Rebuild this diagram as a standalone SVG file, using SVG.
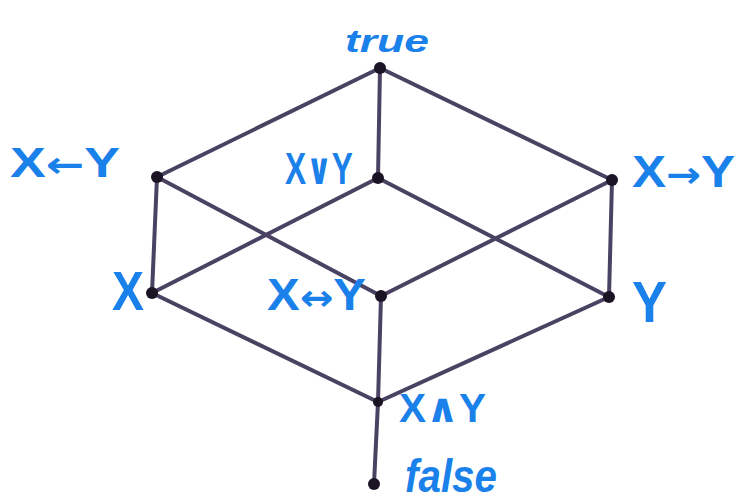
<svg xmlns="http://www.w3.org/2000/svg" width="738" height="501" viewBox="0 0 738 501">
<style>
.e{stroke:#4a4262;stroke-width:4;fill:none;stroke-linecap:round}
.d{fill:#1a1424}
.t{fill:#1a80ea;font-family:"Liberation Sans","DejaVu Sans",sans-serif;font-weight:bold}
.a{font-family:"DejaVu Sans",sans-serif;font-weight:bold}
</style>
<rect width="738" height="501" fill="#fff"/>
<g id="connectors">
<line class="e" x1="380" y1="68" x2="157" y2="177"/>
<line class="e" x1="380" y1="68" x2="378" y2="178"/>
<line class="e" x1="380" y1="68" x2="612" y2="180"/>
<line class="e" x1="157" y1="177" x2="152" y2="293"/>
<line class="e" x1="157" y1="177" x2="381" y2="296"/>
<line class="e" x1="378" y1="178" x2="152" y2="293"/>
<line class="e" x1="378" y1="178" x2="609" y2="297"/>
<line class="e" x1="612" y1="180" x2="381" y2="296"/>
<line class="e" x1="612" y1="180" x2="609" y2="297"/>
<line class="e" x1="152" y1="293" x2="378" y2="402"/>
<line class="e" x1="381" y1="296" x2="378" y2="402"/>
<line class="e" x1="609" y1="297" x2="378" y2="402"/>
<line class="e" x1="378" y1="402" x2="374" y2="484"/>
</g>
<g id="n-true"><circle class="d" cx="380" cy="68" r="6"/><text class="t" x="345" y="52" font-size="32" font-style="italic" textLength="84" lengthAdjust="spacingAndGlyphs">true</text></g>
<g id="n-xly"><circle class="d" cx="157" cy="177" r="6"/><text class="t" x="10" y="177" font-size="42" textLength="110" lengthAdjust="spacingAndGlyphs">X<tspan class="a" font-size="36">←</tspan>Y</text></g>
<g id="n-xory"><circle class="d" cx="378" cy="178" r="6"/><text class="t" x="285" y="184" font-size="44" textLength="68" lengthAdjust="spacingAndGlyphs">X∨Y</text></g>
<g id="n-xry"><circle class="d" cx="612" cy="180" r="6"/><text class="t" x="632" y="187" font-size="44" textLength="103" lengthAdjust="spacingAndGlyphs">X<tspan class="a" font-size="36">→</tspan>Y</text></g>
<g id="n-x"><circle class="d" cx="152" cy="293" r="6"/><text class="t" x="112" y="310" font-size="56" textLength="32" lengthAdjust="spacingAndGlyphs">X</text></g>
<g id="n-xeqy"><circle class="d" cx="381" cy="296" r="6"/><text class="t" x="267" y="310" font-size="44" textLength="99" lengthAdjust="spacingAndGlyphs">X<tspan class="a" font-size="36">↔</tspan>Y</text></g>
<g id="n-y"><circle class="d" cx="609" cy="297" r="6"/><text class="t" x="632" y="322" font-size="58" textLength="35" lengthAdjust="spacingAndGlyphs">Y</text></g>
<g id="n-xandy"><circle class="d" cx="378" cy="402" r="5"/><text class="t" x="399" y="422" font-size="40" textLength="87" lengthAdjust="spacingAndGlyphs">X∧Y</text></g>
<g id="n-false"><circle class="d" cx="374" cy="484" r="6"/><text class="t" x="405" y="492" font-size="46" font-style="italic" textLength="92" lengthAdjust="spacingAndGlyphs">false</text></g>
</svg>
